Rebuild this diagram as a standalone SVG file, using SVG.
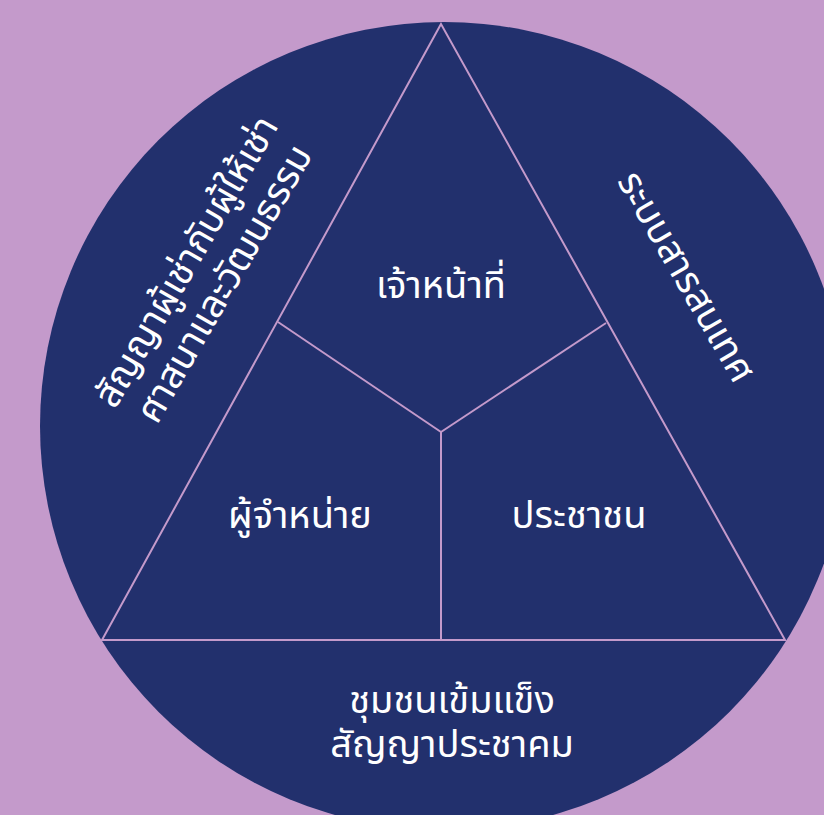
<svg xmlns="http://www.w3.org/2000/svg" width="824" height="815" viewBox="0 0 824 815">
<style>
.t{font-family:"Noto Sans Thai","Noto Sans","DejaVu Sans",sans-serif;fill:#ffffff;font-size:38px;text-anchor:middle}
.ln{stroke:#C49ACB;stroke-width:2;fill:none}
</style>
<rect width="824" height="815" fill="#C49ACB"/>
<g id="circle"><circle cx="444" cy="426" r="404" fill="#22306D"/></g>
<g id="connectors">
<polygon class="ln" points="441,24 102,640 785,640"/>
<line class="ln" x1="441" y1="432" x2="278" y2="322"/>
<line class="ln" x1="441" y1="432" x2="606" y2="323"/>
<line class="ln" x1="441" y1="432" x2="441" y2="640"/>
</g>
<g id="officials"><text class="t" x="441" y="298">เจ้าหน้าที่</text></g>
<g id="distributors"><text class="t" x="300" y="528">ผู้จำหน่าย</text></g>
<g id="citizens"><text class="t" x="579" y="528">ประชาชน</text></g>
<g id="community"><text class="t" x="452" y="713">ชุมชนเข้มแข็ง</text><text class="t" x="452" y="757">สัญญาประชาคม</text></g>
<g id="contract"><g transform="translate(204,272) rotate(-60)"><text class="t" x="0" y="-8">สัญญาผู้เช่ากับผู้ให้เช่า</text><text class="t" x="0" y="36">ศาสนาและวัฒนธรรม</text></g></g>
<g id="info"><g transform="translate(686,277) rotate(60)"><text class="t" x="0" y="12">ระบบสารสนเทศ</text></g></g>
</svg>
